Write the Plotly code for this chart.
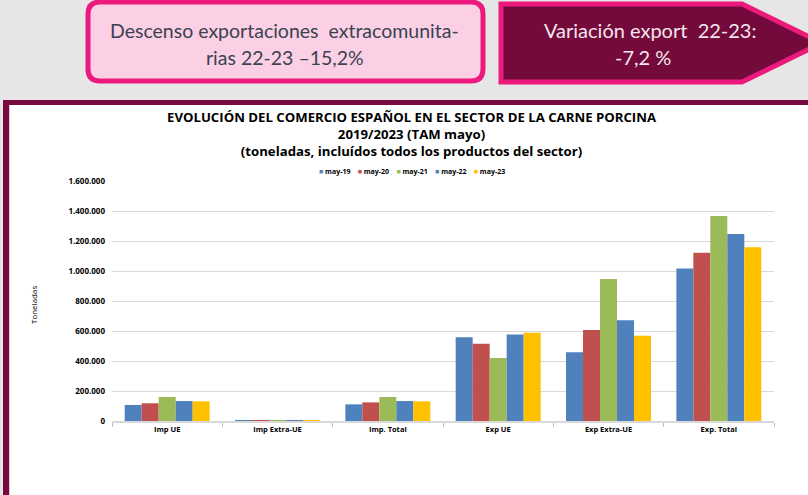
import plotly.graph_objects as go

categories = ["Imp UE", "Imp Extra-UE", "Imp. Total", "Exp UE", "Exp Extra-UE", "Exp. Total"]
series_names = ["may-19", "may-20", "may-21", "may-22", "may-23"]
may19 = [107000, 4000, 111000, 558000, 458000, 1016000]
may20 = [118000, 4000, 124000, 515000, 607000, 1122000]
may21 = [160000, 4000, 160000, 420000, 947000, 1367000]
may22 = [133000, 4000, 133000, 576000, 671000, 1247000]
may23 = [131000, 4000, 131000, 589000, 569000, 1158000]
series_values = [may19, may20, may21, may22, may23]
colors = ["#4f81bd", "#c0504d", "#9bbb59", "#4f81bd", "#ffc000"]
y_ticks = [0, 200000, 400000, 600000, 800000, 1000000, 1200000, 1400000, 1600000]
y_tick_labels = ["0", "200.000", "400.000", "600.000", "800.000", "1.000.000",
                 "1.200.000", "1.400.000", "1.600.000"]

W, H = 808, 495
L, R, T, B = 112, 774, 181, 421

def px(x):
    return (x - L) / (R - L)

def py(y):
    return (B - y) / (B - T)

fig = go.Figure()
for name, vals, c in zip(series_names, series_values, colors):
    fig.add_trace(go.Bar(name=name, x=categories, y=vals, marker_color=c,
                         marker_line_width=0, showlegend=False))

shapes = []
# white panel
shapes.append(dict(type="rect", xref="paper", yref="paper", layer="below",
                   x0=px(4), x1=px(812), y0=py(100), y1=py(500),
                   fillcolor="white", line_width=0))
# maroon borders
shapes.append(dict(type="rect", xref="paper", yref="paper", layer="below",
                   x0=px(3), x1=px(812), y0=py(100), y1=py(105),
                   fillcolor="#760a3e", line_width=0))
shapes.append(dict(type="rect", xref="paper", yref="paper", layer="below",
                   x0=px(3), x1=px(9), y0=py(100), y1=py(500),
                   fillcolor="#760a3e", line_width=0))
shapes.append(dict(type="rect", xref="paper", yref="paper", layer="below",
                   x0=px(9), x1=px(10), y0=py(105), y1=py(500),
                   fillcolor="#f2c6da", line_width=0))

# rounded left box
def rounded_path(x0, y0, x1, y1, r):
    pts = [
        f"M {px(x0 + r)},{py(y0)}",
        f"L {px(x1 - r)},{py(y0)}",
        f"Q {px(x1)},{py(y0)} {px(x1)},{py(y0 + r)}",
        f"L {px(x1)},{py(y1 - r)}",
        f"Q {px(x1)},{py(y1)} {px(x1 - r)},{py(y1)}",
        f"L {px(x0 + r)},{py(y1)}",
        f"Q {px(x0)},{py(y1)} {px(x0)},{py(y1 - r)}",
        f"L {px(x0)},{py(y0 + r)}",
        f"Q {px(x0)},{py(y0)} {px(x0 + r)},{py(y0)}",
        "Z",
    ]
    return " ".join(pts)

shapes.append(dict(type="path", xref="paper", yref="paper", layer="below",
                   path=rounded_path(88, 2, 483, 81, 12),
                   fillcolor="#fbd0e4", line=dict(color="#ec1a7d", width=5)))

# right arrow shape
arrow = " ".join([
    f"M {px(501)},{py(4)}",
    f"L {px(742)},{py(4)}",
    f"L {px(822)},{py(43)}",
    f"L {px(742)},{py(82)}",
    f"L {px(501)},{py(82)}",
    "Z",
])
shapes.append(dict(type="path", xref="paper", yref="paper", layer="below",
                   path=arrow, fillcolor="#740a3b",
                   line=dict(color="#ec1a7d", width=5)))

annotations = []
box_font = "Lato"
annotations.append(dict(xref="paper", yref="paper", x=px(284), y=py(30),
                        text="Descenso exportaciones  extracomunita-",
                        showarrow=False, font=dict(family=box_font, size=19.5, color="#3a4252"),
                        xanchor="center", yanchor="middle"))
annotations.append(dict(xref="paper", yref="paper", x=px(285), y=py(57),
                        text="rias 22-23 \u201315,2%",
                        showarrow=False, font=dict(family=box_font, size=19.5, color="#3a4252"),
                        xanchor="center", yanchor="middle"))
annotations.append(dict(xref="paper", yref="paper", x=px(650), y=py(30),
                        text="Variación export  22-23:",
                        showarrow=False, font=dict(family=box_font, size=20, color="#f3e6ec"),
                        xanchor="center", yanchor="middle"))
annotations.append(dict(xref="paper", yref="paper", x=px(643), y=py(57),
                        text="-7,2 %",
                        showarrow=False, font=dict(family=box_font, size=20, color="#f3e6ec"),
                        xanchor="center", yanchor="middle"))
# chart title (single block, three lines)
title_lines = ["EVOLUCIÓN DEL COMERCIO ESPAÑOL EN EL SECTOR DE LA CARNE PORCINA",
               "2019/2023 (TAM mayo)",
               "(toneladas, incluídos todos los productos del sector)"]
annotations.append(dict(xref="paper", yref="paper", x=px(412), y=py(134),
                        text="<br>".join(f"<b>{t}</b>" for t in title_lines),
                        showarrow=False, align="center",
                        font=dict(family="Open Sans", size=13.2, color="#000000"),
                        xanchor="center", yanchor="middle"))
# legend drawn as text
legend_parts = []
for name, c in zip(series_names, colors):
    legend_parts.append(f"<span style='color:{c}'>■</span> <b>{name}</b>")
annotations.append(dict(xref="paper", yref="paper", x=px(412), y=py(172),
                        text="    ".join(legend_parts), showarrow=False,
                        font=dict(family="Open Sans", size=7, color="#000000"),
                        xanchor="center", yanchor="middle"))
annotations.append(dict(xref="paper", yref="paper", x=px(33), y=py(305),
                        text="Toneladas", textangle=-90, showarrow=False,
                        font=dict(family="Open Sans", size=8, color="#000000"),
                        xanchor="center", yanchor="middle"))

fig.update_layout(
    width=W, height=H,
    margin=dict(l=L, r=W - R, t=T, b=H - B, pad=0),
    paper_bgcolor="#e6e6e6",
    plot_bgcolor="white",
    barmode="group",
    bargap=0.23,
    bargroupgap=0,
    shapes=shapes,
    annotations=annotations,
    showlegend=False,
    font=dict(family="Open Sans", color="#000000"),
)
fig.update_xaxes(
    type="category",
    tickfont=dict(family="Open Sans", size=7.5, color="#000000"),
    tickprefix="<b>", ticksuffix="</b>",
    tickson="boundaries", ticks="outside", ticklen=4, tickcolor="#bfbfbf",
    showline=True, linecolor="#d9d9d9", linewidth=2,
    showgrid=False,
)
fig.update_yaxes(
    range=[0, 1600000],
    tickvals=y_ticks, ticktext=[f"<b>{t}</b>" for t in y_tick_labels],
    tickfont=dict(family="Open Sans", size=8, color="#000000"),
    showgrid=True, gridcolor="#d9d9d9", gridwidth=1,
    zeroline=False, showline=False, ticks="", ticklabelstandoff=6,
)

fig.write_html("out.html", config={"displayModeBar": False},
               post_script="document.body.style.margin='0';document.body.style.overflow='hidden';")
